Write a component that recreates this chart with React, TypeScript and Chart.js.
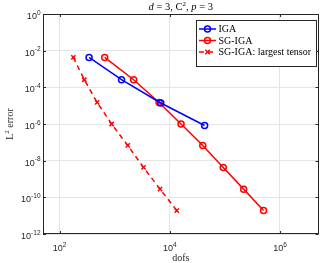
import React, { useEffect, useRef } from "react";
import { Chart, registerables } from "chart.js";

Chart.register(...registerables);

// ---- data ----
const igaDofs = [343, 1331, 6859, 42875];
const igaErr = [4.3e-3, 2.6e-4, 1.4e-5, 8.3e-7];

const sgDofs = [659, 2208, 6390, 16000, 39700, 93300, 219000, 503000];
const sgErr = [4.3e-3, 2.6e-4, 1.5e-5, 1.0e-6, 6.8e-8, 4.3e-9, 2.8e-10, 1.9e-11];

const ltDofs = [178, 281, 480, 879, 1726, 3336, 6650, 13400];
const ltErr = [4.3e-3, 2.6e-4, 1.5e-5, 1.0e-6, 6.8e-8, 4.3e-9, 2.8e-10, 1.9e-11];

const seriesLabels = ["IGA", "SG-IGA", "SG-IGA: largest tensor"];

const xTickValues = [1e2, 1e4, 1e6];
const xTickExps = ["2", "4", "6"];
const yTickValues = [1e0, 1e-2, 1e-4, 1e-6, 1e-8, 1e-10, 1e-12];
const yTickExps = ["0", "-2", "-4", "-6", "-8", "-10", "-12"];

const xMin = 50;
const xMax = 5e6;
const yMin = 1e-12;
const yMax = 1;

const AXIS_COLOR = "#262626";
const GRID_COLOR = "#e5e5e5";
const SANS = "'Liberation Sans', Arial, sans-serif";
const SERIF = "'Liberation Serif', 'Times New Roman', serif";

function pts(xs: number[], ys: number[]) {
  return xs.map((x, i) => ({ x, y: ys[i] }));
}

const decorPlugin = {
  id: "decor",
  afterDraw(chart: any) {
    const ctx: CanvasRenderingContext2D = chart.ctx;
    const a = chart.chartArea;
    const xs = chart.scales.x;
    const ys = chart.scales.y;
    ctx.save();

    // box
    ctx.strokeStyle = AXIS_COLOR;
    ctx.lineWidth = 1;
    ctx.strokeRect(Math.round(a.left) + 0.5, Math.round(a.top) + 0.5, Math.round(a.right - a.left) - 1, Math.round(a.bottom - a.top) - 1);

    // inward tick marks
    const tl = 3;
    ctx.beginPath();
    xTickValues.forEach((v) => {
      const px = Math.round(xs.getPixelForValue(v)) + 0.5;
      ctx.moveTo(px, a.bottom);
      ctx.lineTo(px, a.bottom - tl);
      ctx.moveTo(px, a.top);
      ctx.lineTo(px, a.top + tl);
    });
    yTickValues.forEach((v) => {
      const py = Math.round(ys.getPixelForValue(v)) + 0.5;
      ctx.moveTo(a.left, py);
      ctx.lineTo(a.left + tl, py);
      ctx.moveTo(a.right, py);
      ctx.lineTo(a.right - tl, py);
    });
    ctx.stroke();

    // tick labels with superscripts
    const baseFont = `9px ${SANS}`;
    const expFont = `6.5px ${SANS}`;
    ctx.fillStyle = AXIS_COLOR;
    ctx.textBaseline = "alphabetic";
    ctx.textAlign = "left";
    yTickValues.forEach((v, i) => {
      const py = ys.getPixelForValue(v);
      ctx.font = baseFont;
      const wb = ctx.measureText("10").width;
      ctx.font = expFont;
      const we = ctx.measureText(yTickExps[i]).width;
      const right = a.left - 2.5;
      const x0 = right - wb - we;
      ctx.font = baseFont;
      ctx.fillText("10", x0, py + 5);
      ctx.font = expFont;
      ctx.fillText(yTickExps[i], x0 + wb, py + 0.5);
    });
    xTickValues.forEach((v, i) => {
      const px = xs.getPixelForValue(v);
      ctx.font = baseFont;
      const wb = ctx.measureText("10").width;
      ctx.font = expFont;
      const we = ctx.measureText(xTickExps[i]).width;
      const x0 = px - (wb + we) / 2;
      ctx.font = baseFont;
      ctx.fillText("10", x0, a.bottom + 17);
      ctx.font = expFont;
      ctx.fillText(xTickExps[i], x0 + wb, a.bottom + 12.5);
    });

    // axis titles
    ctx.fillStyle = AXIS_COLOR;
    ctx.font = `10px ${SERIF}`;
    ctx.textAlign = "center";
    ctx.textBaseline = "alphabetic";
    ctx.fillText("dofs", (a.left + a.right) / 2, a.bottom + 27);

    ctx.save();
    ctx.translate(13, (a.top + a.bottom) / 2);
    ctx.rotate(-Math.PI / 2);
    ctx.font = `10px ${SERIF}`;
    const w1 = ctx.measureText("L").width;
    ctx.font = `7px ${SERIF}`;
    const w2 = ctx.measureText("2").width;
    ctx.font = `10px ${SERIF}`;
    const w3 = ctx.measureText(" error").width;
    let sx = -(w1 + w2 + w3) / 2;
    ctx.textAlign = "left";
    ctx.fillText("L", sx, 0);
    ctx.font = `7px ${SERIF}`;
    ctx.fillText("2", sx + w1, -4);
    ctx.font = `10px ${SERIF}`;
    ctx.fillText(" error", sx + w1 + w2, 0);
    ctx.restore();

    // title: d = 3, C^2, p = 3
    const parts: [string, string, number][] = [
      ["d", `italic 10.5px ${SERIF}`, 0],
      [" = 3, C", `10.5px ${SERIF}`, 0],
      ["2", `7px ${SERIF}`, -4],
      [", ", `10.5px ${SERIF}`, 0],
      ["p", `italic 10.5px ${SERIF}`, 0],
      [" = 3", `10.5px ${SERIF}`, 0],
    ];
    let tw = 0;
    parts.forEach(([t, f]) => {
      ctx.font = f;
      tw += ctx.measureText(t).width;
    });
    let tx = (a.left + a.right) / 2 - tw / 2;
    ctx.fillStyle = "#000";
    ctx.textAlign = "left";
    parts.forEach(([t, f, dy]) => {
      ctx.font = f;
      ctx.fillText(t, tx, 10 + dy);
      tx += ctx.measureText(t).width;
    });

    // legend
    const lx = 196.5, ly = 20.5, lw = 120, lh = 46;
    ctx.fillStyle = "#fff";
    ctx.fillRect(lx, ly, lw, lh);
    ctx.strokeStyle = "#262626";
    ctx.lineWidth = 1;
    ctx.strokeRect(lx, ly, lw, lh);
    const rows = [29, 40.5, 52];
    chart.data.datasets.forEach((ds: any, i: number) => {
      const y = rows[i];
      ctx.save();
      ctx.strokeStyle = ds.borderColor;
      ctx.lineWidth = ds.borderWidth;
      ctx.setLineDash(ds.borderDash || []);
      ctx.beginPath();
      ctx.moveTo(199, y);
      ctx.lineTo(216, y);
      ctx.stroke();
      ctx.setLineDash([]);
      ctx.restore();
      ctx.save();
      // marker
      ctx.strokeStyle = ds.pointBorderColor;
      ctx.lineWidth = ds.pointBorderWidth;
      ctx.beginPath();
      if (ds.pointStyle === "circle") {
        ctx.arc(207.5, y, ds.pointRadius, 0, Math.PI * 2);
      } else {
        const r = ds.pointRadius * 0.75;
        ctx.moveTo(207.5 - r, y - r);
        ctx.lineTo(207.5 + r, y + r);
        ctx.moveTo(207.5 + r, y - r);
        ctx.lineTo(207.5 - r, y + r);
      }
      ctx.stroke();
      ctx.restore();
      ctx.fillStyle = "#000";
      ctx.font = `10px ${SERIF}`;
      ctx.textAlign = "left";
      ctx.textBaseline = "middle";
      ctx.fillText(seriesLabels[i], 218.5, y + 0.5);
    });

    ctx.restore();
  },
};

export default function App() {
  const ref = useRef<HTMLCanvasElement>(null);

  useEffect(() => {
    document.body.style.margin = "0";
    const canvas = ref.current!;
    const chart = new Chart(canvas, {
      type: "line",
      data: {
        datasets: [
          {
            label: seriesLabels[0],
            data: pts(igaDofs, igaErr),
            borderColor: "#0000ff",
            backgroundColor: "rgba(0,0,0,0)",
            borderWidth: 1.5,
            pointStyle: "circle",
            pointRadius: 3,
            pointBorderWidth: 1.5,
            pointBorderColor: "#0000ff",
            pointBackgroundColor: "rgba(0,0,0,0)",
            tension: 0,
          },
          {
            label: seriesLabels[1],
            data: pts(sgDofs, sgErr),
            borderColor: "#ff0000",
            backgroundColor: "rgba(0,0,0,0)",
            borderWidth: 1.5,
            pointStyle: "circle",
            pointRadius: 3,
            pointBorderWidth: 1.5,
            pointBorderColor: "#ff0000",
            pointBackgroundColor: "rgba(0,0,0,0)",
            tension: 0,
          },
          {
            label: seriesLabels[2],
            data: pts(ltDofs, ltErr),
            borderColor: "#ff0000",
            backgroundColor: "rgba(0,0,0,0)",
            borderWidth: 1.5,
            borderDash: [5, 4],
            pointStyle: "crossRot",
            pointRadius: 3,
            pointBorderWidth: 1.5,
            pointBorderColor: "#ff0000",
            pointBackgroundColor: "rgba(0,0,0,0)",
            tension: 0,
          },
        ],
      },
      options: {
        responsive: false,
        animation: false,
        layout: { padding: { top: 14, right: 1, left: 0, bottom: 0 } },
        plugins: {
          legend: { display: false },
          title: { display: false },
          tooltip: { enabled: false },
        },
        scales: {
          x: {
            type: "logarithmic",
            min: xMin,
            max: xMax,
            afterBuildTicks: (s: any) => {
              s.ticks = xTickValues.map((v) => ({ value: v }));
            },
            afterFit: (s: any) => {
              s.height = 29;
            },
            ticks: { display: false },
            grid: { color: GRID_COLOR, drawTicks: false },
            border: { display: false },
          },
          y: {
            type: "logarithmic",
            min: yMin,
            max: yMax,
            afterBuildTicks: (s: any) => {
              s.ticks = yTickValues.map((v) => ({ value: v }));
            },
            afterFit: (s: any) => {
              s.width = 43;
            },
            ticks: { display: false },
            grid: { color: GRID_COLOR, drawTicks: false },
            border: { display: false },
          },
        },
      } as any,
      plugins: [decorPlugin],
    });
    return () => chart.destroy();
  }, []);

  return <canvas ref={ref} width={324} height={263} style={{ display: "block" }} />;
}
